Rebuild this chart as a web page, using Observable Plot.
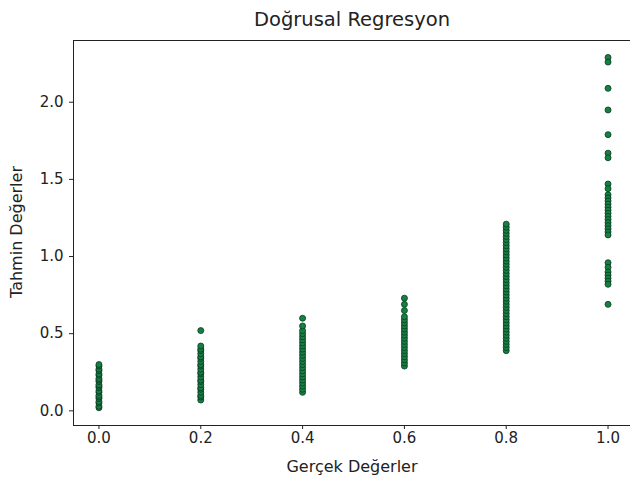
<!DOCTYPE html>
<html>
<head>
<meta charset="utf-8">
<script src="https://cdn.jsdelivr.net/npm/d3@7"></script>
<script src="https://cdn.jsdelivr.net/npm/@observablehq/plot@0.6"></script>
<style>
  html, body { margin: 0; padding: 0; background: #fff; }
  #wrap { position: relative; width: 630px; height: 484px; overflow: hidden; font-family: "DejaVu Sans", sans-serif; color: #222; }
  #wrap svg { max-width: none !important; position: absolute; left: 0; top: 0; }
  .lbl { position: absolute; white-space: nowrap; font-size: 16px; line-height: 1; }
</style>
</head>
<body>
<div id="wrap"></div>
<script>
// Categories (actual values)
const actual = [0.0, 0.2, 0.4, 0.6, 0.8, 1.0];
// Predicted values per category
const pred00 = [0.02,0.03,0.05,0.06,0.08,0.09,0.10,0.12,0.13,0.15,0.16,0.17,0.19,0.20,0.21,0.23,0.24,0.26,0.27,0.29,0.30];
const pred02 = [0.07,0.09,0.10,0.12,0.14,0.15,0.17,0.19,0.20,0.22,0.24,0.25,0.27,0.29,0.30,0.32,0.34,0.35,0.37,0.39,0.40,0.42,0.52];
const pred04 = [0.12,0.14,0.16,0.18,0.20,0.22,0.24,0.26,0.28,0.30,0.32,0.34,0.36,0.38,0.40,0.42,0.44,0.46,0.48,0.50,0.52,0.55,0.60];
const pred06 = [0.29,0.31,0.33,0.35,0.37,0.39,0.41,0.43,0.45,0.47,0.49,0.51,0.53,0.55,0.57,0.59,0.61,0.65,0.69,0.73];
const pred08 = [0.39,0.41,0.43,0.45,0.47,0.49,0.51,0.53,0.55,0.57,0.59,0.61,0.63,0.65,0.67,0.69,0.71,0.73,0.75,0.77,0.79,0.81,0.83,0.85,0.87,0.89,0.91,0.93,0.95,0.97,0.99,1.01,1.03,1.05,1.07,1.09,1.11,1.13,1.15,1.17,1.19,1.21];
const pred10 = [2.29,2.26,2.09,1.95,1.79,1.67,1.64,1.47,1.44,1.40,1.38,1.36,1.34,1.32,1.30,1.28,1.26,1.24,1.22,1.20,1.18,1.16,1.14,0.96,0.93,0.90,0.88,0.86,0.84,0.82,0.69];
const predicted = [pred00, pred02, pred04, pred06, pred08, pred10];
// Tick labels
const xTicks = [0.0, 0.2, 0.4, 0.6, 0.8, 1.0];
const yTicks = [0.0, 0.5, 1.0, 1.5, 2.0];
const titleText = "Doğrusal Regresyon";
const xLabel = "Gerçek Değerler";
const yLabel = "Tahmin Değerler";

const data = [];
actual.forEach((a, i) => predicted[i].forEach(p => data.push({actual: a, predicted: p})));

const chart = Plot.plot({
  width: 634,
  height: 484,
  marginTop: 40,
  marginBottom: 59,
  marginLeft: 73,
  marginRight: 1,
  style: {fontFamily: "DejaVu Sans, sans-serif", fontSize: "15px", color: "#222", background: "transparent", overflow: "visible"},
  x: {domain: [-0.05, 1.05]},
  y: {domain: [-0.095, 2.40]},
  marks: [
    Plot.frame({stroke: "#222", strokeWidth: 1}),
    Plot.axisX({ticks: xTicks, tickFormat: d3.format(".1f"), tickSize: 4, tickPadding: 3, label: null, fontSize: 15, stroke: "#222"}),
    Plot.axisY({ticks: yTicks, tickFormat: d3.format(".1f"), tickSize: 4, tickPadding: 6, label: null, fontSize: 15, stroke: "#222"}),
    Plot.dot(data, {x: "actual", y: "predicted", r: 3, fill: "#14823f", stroke: "#0e3327", strokeWidth: 0.8})
  ]
});
const wrap = document.getElementById("wrap");
wrap.appendChild(chart);

function addLabel(text, css, size) {
  const d = document.createElement("div");
  d.className = "lbl";
  d.textContent = text;
  Object.assign(d.style, css);
  if (size) d.style.fontSize = size;
  wrap.appendChild(d);
}
addLabel(titleText, {left: "352px", top: "20px", transform: "translate(-50%,-50%)"}, "19.5px");
addLabel(xLabel, {left: "352px", top: "467px", transform: "translate(-50%,-50%)"});
addLabel(yLabel, {left: "17px", top: "232px", transform: "translate(-50%,-50%) rotate(-90deg)"});
</script>
</body>
</html>
